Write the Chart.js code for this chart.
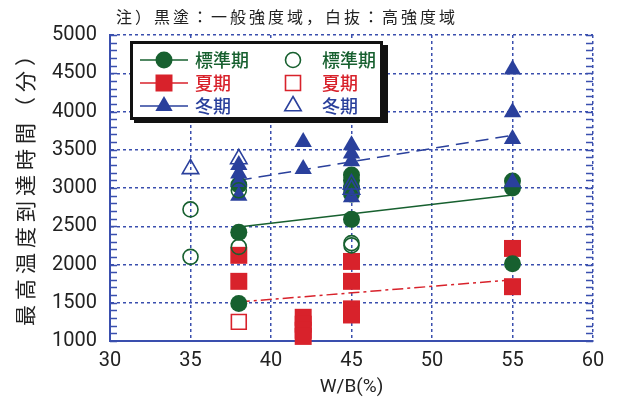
<!DOCTYPE html>
<html>
<head>
<meta charset="utf-8">
<script src="https://cdn.jsdelivr.net/npm/chart.js@4.4.1/dist/chart.umd.min.js"></script>
<style>
  html, body { margin: 0; padding: 0; background: #fff; }
</style>
</head>
<body>
<canvas id="chart" width="636" height="403"></canvas>
<script>
// data: [W/B %, minutes]
const stdFilled = [[38, 3040], [38, 2420], [38, 1490], [45, 3170], [45, 3100], [45, 3000], [45, 2920], [45, 2590], [55, 3090], [55, 3000], [55, 2010]];
const stdOpen = [[35, 2720], [35, 2100], [38, 2970], [38, 2230], [45, 3010], [45, 2280], [45, 2250]];
const summerFilled = [[38, 2120], [38, 1780], [42, 1310], [42, 1220], [42, 1140], [42, 1060], [45, 2040], [45, 1780], [45, 1420], [45, 1340], [55, 2210], [55, 1710]];
const summerOpen = [[38, 1250]];
const winterFilled = [[38, 3300], [38, 3190], [38, 3080], [38, 2900], [42, 3600], [42, 3250], [45, 3560], [45, 3450], [45, 3350], [45, 2880], [55, 4550], [55, 3990], [55, 3640], [55, 3075]];
const winterOpen = [[35, 3250], [38, 3380], [45, 3050], [45, 2980]];

// trend lines (general strength)
const stdTrend = [[38, 2490], [55, 2910]];
const summerTrend = [[38, 1510], [55, 1800]];
const winterTrend = [[38, 3100], [55, 3690]];

const xTicks = [30, 35, 40, 45, 50, 55, 60];
const yTicks = [1000, 1500, 2000, 2500, 3000, 3500, 4000, 4500, 5000];

const noteText = "注）黒塗：一般強度域，白抜：高強度域";
const yTitle = "最高温度到達時間（分）";
const xTitle = "W/B(%)";
const seasonNames = ["標準期", "夏期", "冬期"];

const GREEN = "#17602f";
const RED = "#d8222b";
const BLUE = "#2a409c";
const GRID = "#3a4fae";
const CJK = "'Noto Sans CJK JP', sans-serif";

const toPts = (arr) => arr.map((p) => ({ x: p[0], y: p[1] }));

function drawMarker(ctx, kind, x, y, color, filled) {
  ctx.save();
  ctx.fillStyle = color;
  ctx.strokeStyle = color;
  ctx.lineWidth = 1.6;
  ctx.beginPath();
  if (kind === "circle") {
    ctx.arc(x, y, filled ? 8.5 : 7.5, 0, Math.PI * 2);
  } else if (kind === "rect") {
    const s = filled ? 8.5 : 7.5;
    ctx.rect(x - s, y - s, 2 * s, 2 * s);
  } else {
    const r = filled ? 10 : 9.5;
    ctx.moveTo(x, y - r);
    ctx.lineTo(x + r * 0.866, y + r * 0.5);
    ctx.lineTo(x - r * 0.866, y + r * 0.5);
    ctx.closePath();
  }
  if (filled) ctx.fill(); else ctx.stroke();
  ctx.restore();
}

const decorations = {
  id: "decorations",
  beforeDatasetsDraw(chart) {
    const { ctx, chartArea, scales } = chart;
    // inward minor ticks on left / right edges
    ctx.save();
    ctx.strokeStyle = GRID;
    ctx.lineWidth = 1.3;
    for (let v = 1000; v <= 5000; v += 100) {
      const y = Math.round(scales.y.getPixelForValue(v)) + 0.5;
      ctx.beginPath();
      ctx.moveTo(chartArea.left, y);
      ctx.lineTo(chartArea.left + 7, y);
      ctx.moveTo(chartArea.right, y);
      ctx.lineTo(chartArea.right - 7, y);
      ctx.stroke();
    }
    // solid left frame
    ctx.lineWidth = 2;
    ctx.beginPath();
    ctx.moveTo(chartArea.left, chartArea.top);
    ctx.lineTo(chartArea.left, chartArea.bottom);
    ctx.stroke();
    ctx.restore();
  },
  afterDraw(chart) {
    const { ctx } = chart;
    ctx.save();
    // note
    ctx.fillStyle = "#222";
    ctx.font = "16px " + CJK;
    ctx.textBaseline = "middle";
    ctx.textAlign = "left";
    ctx.letterSpacing = "3px";
    ctx.fillText(noteText, 116, 17);

    // y title (rotated)
    ctx.save();
    ctx.translate(25, 183);
    ctx.rotate(-Math.PI / 2);
    ctx.font = "21px " + CJK;
    ctx.letterSpacing = "5px";
    ctx.textAlign = "center";
    ctx.fillText(yTitle, 0, 0);
    ctx.restore();

    // legend box
    ctx.letterSpacing = "0px";
    ctx.fillStyle = "#111";
    ctx.fillRect(134, 45, 254, 78);
    ctx.fillStyle = "#fff";
    ctx.fillRect(131, 42, 250, 76);
    ctx.strokeStyle = "#111";
    ctx.lineWidth = 3;
    ctx.strokeRect(131.5, 42.5, 250, 76);

    const rows = [60, 83, 106];
    const colors = [GREEN, RED, BLUE];
    const kinds = ["circle", "rect", "triangle"];
    ctx.font = "500 18px " + CJK;
    rows.forEach((ry, i) => {
      ctx.strokeStyle = colors[i];
      ctx.lineWidth = 1.5;
      ctx.beginPath();
      ctx.moveTo(140, ry);
      ctx.lineTo(188, ry);
      ctx.stroke();
      drawMarker(ctx, kinds[i], 164, ry, colors[i], true);
      drawMarker(ctx, kinds[i], 293, ry, colors[i], false);
      ctx.fillStyle = colors[i];
      ctx.fillText(seasonNames[i], 195, ry);
      ctx.fillText(seasonNames[i], 322, ry);
    });
    ctx.restore();
  }
};

const ctx = document.getElementById("chart");

new Chart(ctx, {
  type: "scatter",
  data: {
    datasets: [
      { data: toPts(winterOpen), pointStyle: "triangle", pointRadius: 9.5, backgroundColor: "rgba(255,255,255,0)", borderColor: BLUE, pointBorderWidth: 1.6, clip: false },
      { data: toPts(stdOpen), pointStyle: "circle", pointRadius: 7.5, backgroundColor: "rgba(255,255,255,0)", borderColor: GREEN, pointBorderWidth: 1.6, clip: false },
      { data: toPts(summerOpen), pointStyle: "rect", pointRadius: 10.5, backgroundColor: "rgba(255,255,255,0)", borderColor: RED, pointBorderWidth: 1.6, clip: false },
      { data: toPts(winterFilled), pointStyle: "triangle", pointRadius: 10, backgroundColor: BLUE, borderColor: BLUE, pointBorderWidth: 0, clip: false },
      { data: toPts(stdFilled), pointStyle: "circle", pointRadius: 8.5, backgroundColor: GREEN, borderColor: GREEN, pointBorderWidth: 0, clip: false },
      { data: toPts(summerFilled), pointStyle: "rect", pointRadius: 12, backgroundColor: RED, borderColor: RED, pointBorderWidth: 0, clip: false },
      { type: "line", data: toPts(stdTrend), borderColor: GREEN, borderWidth: 1.5, pointRadius: 0, fill: false },
      { type: "line", data: toPts(summerTrend), borderColor: RED, borderWidth: 1.5, borderDash: [11, 4, 3, 4], pointRadius: 0, fill: false },
      { type: "line", data: toPts(winterTrend), borderColor: BLUE, borderWidth: 1.5, borderDash: [13, 7], pointRadius: 0, fill: false }
    ]
  },
  options: {
    responsive: false,
    animation: false,
    devicePixelRatio: 1,
    layout: { padding: { top: 35, right: 43, left: 0, bottom: 0 } },
    plugins: { legend: { display: false }, tooltip: { enabled: false } },
    scales: {
      x: {
        type: "linear",
        min: 30,
        max: 60,
        afterFit: (s) => { s.height = 62; },
        afterBuildTicks: (s) => { s.ticks = xTicks.map((v) => ({ value: v })); },
        ticks: { color: "#222", padding: 8, font: { family: "Roboto", size: 20 }, callback: (v) => String(v) },
        grid: { color: GRID, lineWidth: 1.5, drawTicks: false },
        border: { display: true, color: GRID, width: 2, dash: [3, 3] },
        title: { display: true, text: xTitle, color: "#222", font: { family: "Roboto", size: 19 }, padding: { top: 0, bottom: 4 } }
      },
      y: {
        type: "linear",
        min: 1000,
        max: 5000,
        afterFit: (s) => { s.width = 110; },
        afterBuildTicks: (s) => { s.ticks = yTicks.map((v) => ({ value: v })); },
        ticks: { color: "#222", padding: 13, font: { family: "Roboto", size: 20 }, callback: (v) => String(v) },
        grid: { color: GRID, lineWidth: 1.5, drawTicks: false },
        border: { display: true, color: GRID, width: 2, dash: [3, 3] }
      }
    }
  }
  ,
  plugins: [decorations]
});
</script>
</body>
</html>
